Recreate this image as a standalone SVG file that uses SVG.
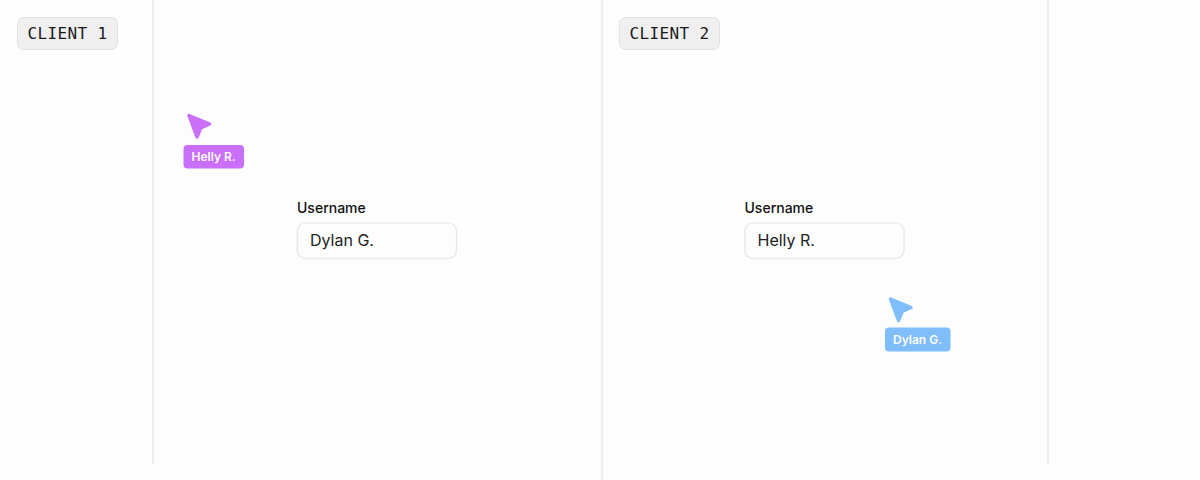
<svg xmlns="http://www.w3.org/2000/svg" width="1200" height="480" viewBox="0 0 1200 480">
<style>
.bg{fill:#fdfdfd}
.div{stroke:#ededed;stroke-width:2;fill:none}
.tag{fill:#efefef;stroke:#e2e2e2;stroke-width:1}
.tagt{font-family:"DejaVu Sans Mono","Liberation Mono",monospace;font-size:16px;letter-spacing:.37px;fill:#1a1a1a}
.lab{font-family:Inter,"Liberation Sans",sans-serif;font-size:14px;font-weight:450;fill:#111}
.inp{fill:#fdfdfd;stroke:#e8e8e8;stroke-width:1.200}
.sh{fill:none;stroke:#f3f3f3;stroke-width:1}
.val{font-family:Inter,"Liberation Sans",sans-serif;font-size:16px;fill:#222}
.ct{font-family:Inter,"Liberation Sans",sans-serif;font-size:12px;font-weight:600;fill:#fdfdfd}
.pur{fill:#c96ffa}
.blu{fill:#7fbdfb}
</style>
<rect class="bg" width="1200" height="480"/>
<g id="connectors">
<line class="div" x1="153" y1="0" x2="153" y2="464"/>
<line class="div" x1="602" y1="0" x2="602" y2="480"/>
<line class="div" x1="1048" y1="0" x2="1048" y2="464"/>
</g>
<g id="client1-tag">
<rect class="tag" x="17.500" y="17.500" width="100" height="32" rx="6"/>
<text class="tagt" x="27.500" y="38.500">CLIENT 1</text>
</g>
<g id="client2-tag">
<rect class="tag" x="619.500" y="17.500" width="100" height="32" rx="6"/>
<text class="tagt" x="629.500" y="38.500">CLIENT 2</text>
</g>
<g id="field1">
<text class="lab" x="297" y="212.500">Username</text>
<rect class="sh" x="297" y="224" width="160" height="35" rx="8"/>
<rect class="inp" x="297.500" y="223" width="159" height="35" rx="8"/>
<text class="val" x="310" y="246">Dylan G.</text>
</g>
<g id="field2">
<text class="lab" x="744.500" y="212.500">Username</text>
<rect class="sh" x="744.500" y="224" width="160" height="35" rx="8"/>
<rect class="inp" x="745" y="223" width="159" height="35" rx="8"/>
<text class="val" x="757.500" y="246">Helly R.</text>
</g>
<g id="cursor-helly">
<path class="pur" stroke="#c96ffa" stroke-width="3.500" stroke-linejoin="round" d="M189 115.500 L209.500 124 L200.800 127.800 L197 137 Z"/>
<rect class="pur" x="183.500" y="145" width="60.500" height="23.500" rx="4"/>
<text class="ct" x="191.500" y="161">Helly R.</text>
</g>
<g id="cursor-dylan">
<path class="blu" stroke="#7fbdfb" stroke-width="3.500" stroke-linejoin="round" d="M890.500 299 L911 307.500 L902.300 311.300 L898.500 320.500 Z"/>
<rect class="blu" x="885" y="327.500" width="65.500" height="24" rx="4"/>
<text class="ct" x="893" y="343.500">Dylan G.</text>
</g>
</svg>
